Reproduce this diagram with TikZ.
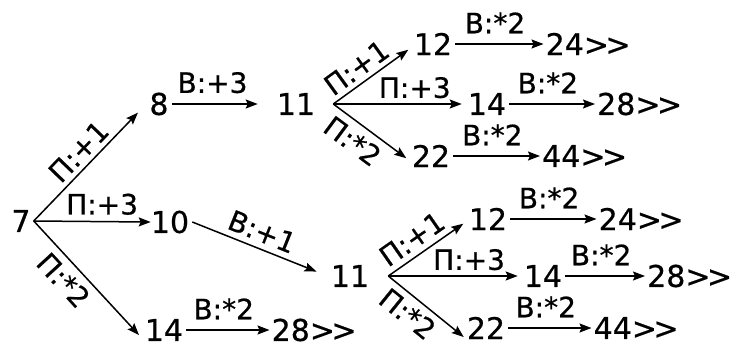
\documentclass[tikz,border=0pt]{standalone}
\usepackage{fontspec}
\setmainfont{DejaVu Sans}
\newfontfamily\dvs{DejaVu Sans}[FakeBold=0.6]
\usetikzlibrary{arrows.meta}
\newcommand\numfont{\dvs\fontsize{30}{30}\selectfont}
\newcommand\labfont{\dvs\fontsize{28}{28}\selectfont}
\newcommand\grr{>\kern-3.5pt>}
\begin{document}
\begin{tikzpicture}[x=1pt,y=-1pt,
  num/.style={font=\numfont, inner sep=3pt},
  numw/.style={num, anchor=west, inner xsep=2pt},
  lab/.style={font=\labfont, inner sep=2pt},
  arr/.style={line width=1.5pt, -{Stealth[length=12pt,width=9pt,inset=2pt]}}]
\useasboundingbox (0,0) rectangle (731,348);
% numbers
\node[num] (n7) at (21,221) {7};
\node[num] (n8) at (159,104) {8};
\node[num] (n10) at (170,222) {10};
\node[num] (n14c) at (164,330) {14};
\node[numw] (n28c) at (269.5,330) {28\grr};
\node[num] (n11a) at (296,104) {11};
\node[num] (n11b) at (350,276) {11};
\node[num] (n12a) at (433,44) {12};
\node[num] (n14a) at (487,104) {14};
\node[num] (n22a) at (431,156) {22};
\node[numw] (n24a) at (543.5,44) {24\grr};
\node[numw] (n28a) at (595,104) {28\grr};
\node[numw] (n44a) at (540,156) {44\grr};
\node[num] (n12b) at (488,219) {12};
\node[num] (n14b) at (543,276) {14};
\node[num] (n22b) at (486,328) {22};
\node[numw] (n24b) at (596.5,219) {24\grr};
\node[numw] (n28b) at (645,276) {28\grr};
\node[numw] (n44b) at (591.5,328) {44\grr};
% branch points
\coordinate (o7) at (n7.east);
\coordinate (o11a) at ([xshift=15pt]n11a.east);
\coordinate (o11b) at ([xshift=16pt]n11b.east);
% from 7
\draw[arr, shorten >=12pt] (o7) -- (n8.west) node[lab, sloped, pos=.5, above=3pt] (l71) {П:+1};
\draw[arr, shorten >=-3pt] (o7) -- (n10.west) node[lab, pos=.6, above=4pt] (l72) {П:+3};
\draw[arr, shorten >=4pt] (o7) -- ([yshift=-8pt]n14c.west) node[lab, sloped, pos=.4, below=5pt] (l73) {П:*2};
\draw[arr, shorten >=16pt] (n8.east) -- (n11a.west) node[lab, pos=.4, above=8pt] (l81) {В:+3};
\draw[arr, shorten >=12pt] (n10.east) -- (n11b.west) node[lab, sloped, pos=.47, above=4pt] (l101) {В:+1};
\draw[arr] (n14c.east) -- (n28c.west) node[lab, pos=.45, above=8pt] (l141) {В:*2};
% upper 11
\draw[arr, shorten >=3pt] (o11a) -- ([yshift=-4pt]n12a.west) node[lab, sloped, pos=.42, above=3pt] (la1) {П:+1};
\draw[arr, shorten >=3pt] (o11a) -- (n14a.west) node[lab, pos=.62, above=3pt] (la2) {П:+3};
\draw[arr, shorten >=3pt] (o11a) -- ([yshift=-4pt]n22a.west) node[lab, sloped, pos=.4, below=5pt] (la3) {П:*2};
\draw[arr] (n12a.east) -- (n24a.west) node[lab, pos=.45, above=8pt] (la4) {В:*2};
\draw[arr] (n14a.east) -- (n28a.west) node[lab, pos=.45, above=8pt] (la5) {В:*2};
\draw[arr] (n22a.east) -- (n44a.west) node[lab, pos=.45, above=8pt] (la6) {В:*2};
% lower 11
\draw[arr, shorten >=3pt] (o11b) -- ([yshift=-3pt]n12b.west) node[lab, sloped, pos=.43, above=4pt] (lb1) {П:+1};
\draw[arr, shorten >=3pt] (o11b) -- (n14b.west) node[lab, pos=.61, above=3pt] (lb2) {П:+3};
\draw[arr] (o11b) -- ([yshift=-9pt]n22b.west) node[lab, sloped, pos=.4, below=4pt] (lb3) {П:*2};
\draw[arr] (n12b.east) -- (n24b.west) node[lab, pos=.45, above=8pt] (lb4) {В:*2};
\draw[arr] (n14b.east) -- (n28b.west) node[lab, pos=.45, above=8pt] (lb5) {В:*2};
\draw[arr] (n22b.east) -- (n44b.west) node[lab, pos=.45, above=8pt] (lb6) {В:*2};
\end{tikzpicture}
\end{document}
